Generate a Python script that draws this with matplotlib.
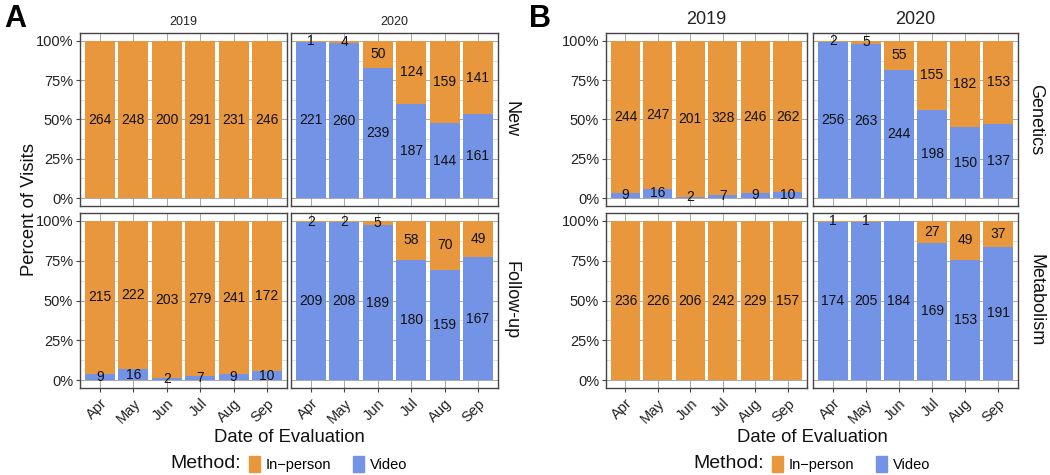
import numpy as np
import matplotlib
matplotlib.use("Agg")
import matplotlib.pyplot as plt
from matplotlib.patches import Patch

plt.rcParams['font.family'] = ['Liberation Sans', 'DejaVu Sans']

months = ['Apr', 'May', 'Jun', 'Jul', 'Aug', 'Sep']
years = ['2019', '2020']

# Panel A: New / Follow-up
a_new_inperson_2019 = [264, 248, 200, 291, 231, 246]
a_new_video_2019 = [0, 0, 0, 0, 0, 0]
a_new_inperson_2020 = [1, 4, 50, 124, 159, 141]
a_new_video_2020 = [221, 260, 239, 187, 144, 161]
a_fu_inperson_2019 = [215, 222, 203, 279, 241, 172]
a_fu_video_2019 = [9, 16, 2, 7, 9, 10]
a_fu_inperson_2020 = [2, 2, 5, 58, 70, 49]
a_fu_video_2020 = [209, 208, 189, 180, 159, 167]

# Panel B: Genetics / Metabolism
b_gen_inperson_2019 = [244, 247, 201, 328, 246, 262]
b_gen_video_2019 = [9, 16, 2, 7, 9, 10]
b_gen_inperson_2020 = [2, 5, 55, 155, 182, 153]
b_gen_video_2020 = [256, 263, 244, 198, 150, 137]
b_met_inperson_2019 = [236, 226, 206, 242, 229, 157]
b_met_video_2019 = [0, 0, 0, 0, 0, 0]
b_met_inperson_2020 = [1, 1, 0, 27, 49, 37]
b_met_video_2020 = [174, 205, 184, 169, 153, 191]

ORANGE = '#E8973D'
BLUE = '#7393E6'
W, H = 1050, 475

fig = plt.figure(figsize=(W / 100, H / 100), dpi=100)


def px_axes(x0, y0, x1, y1):
    return fig.add_axes([x0 / W, 1 - y1 / H, (x1 - x0) / W, (y1 - y0) / H])


def facet(ax, inperson, video, show_x, show_y):
    inperson = np.array(inperson, float)
    video = np.array(video, float)
    tot = inperson + video
    pv = video / tot * 100
    pi = inperson / tot * 100
    x = np.arange(len(months))
    ax.set_axisbelow(True)
    ax.bar(x, pv, width=0.9, color=BLUE, zorder=2)
    ax.bar(x, pi, bottom=pv, width=0.9, color=ORANGE, zorder=2)
    for i in range(len(x)):
        if video[i] > 0:
            ax.text(x[i], pv[i] / 2, f'{int(video[i])}', ha='center', va='center',
                    fontsize=10, color='#111', zorder=3)
        if inperson[i] > 0:
            ax.text(x[i], pv[i] + pi[i] / 2, f'{int(inperson[i])}', ha='center',
                    va='center', fontsize=10, color='#111', zorder=3)
    ax.set_xlim(-0.6, 5.6)
    ax.set_ylim(-5, 105)
    ax.set_yticks([0, 25, 50, 75, 100])
    ax.set_yticks([12.5, 37.5, 62.5, 87.5], minor=True)
    ax.set_xticks(x)
    ax.grid(True, which='major', color='#9a9a9a', lw=0.6)
    ax.grid(True, which='minor', axis='y', color='#c4c4c4', lw=0.4)
    ax.tick_params(which='minor', length=0)
    for s in ax.spines.values():
        s.set_color('#444')
        s.set_linewidth(1.0)
    if show_y:
        ax.set_yticklabels(['0%', '25%', '50%', '75%', '100%'], fontsize=10.5, color='#222')
        ax.tick_params(axis='y', length=3, color='#444', pad=2)
    else:
        ax.tick_params(axis='y', length=0, labelleft=False)
    if show_x:
        ax.set_xticklabels(months, rotation=45, ha='right', rotation_mode='anchor',
                           fontsize=10.5, color='#222')
        ax.tick_params(axis='x', length=3, color='#444', pad=3)
    else:
        ax.tick_params(axis='x', length=0, labelbottom=False)


def group(xcols, rows, data, strip_size, row_names, row_x, letter, letter_x, show_ylabel):
    (l0, l1), (r0, r1) = xcols
    for ri, (y0, y1) in enumerate(rows):
        for ci, (x0, x1) in enumerate([(l0, l1), (r0, r1)]):
            ax = px_axes(x0, y0, x1, y1)
            ip, vd = data[ri][ci]
            facet(ax, ip, vd, show_x=(ri == 1), show_y=(ci == 0))
            if ri == 0:
                fig.text((x0 + x1) / 2 / W, 1 - (y0 - 5) / H, years[ci],
                         ha='center', va='bottom', fontsize=strip_size, color='#222')
        fig.text(row_x / W, 1 - (y0 + y1) / 2 / H, row_names[ri], rotation=-90,
                 ha='center', va='center', fontsize=13, color='#111')
    fig.text(letter_x / W, 1 - 4 / H, letter, ha='left', va='top', fontsize=22,
             fontweight='bold')
    cx = (l0 + r1) / 2
    fig.text(cx / W, 1 - 438 / H, 'Date of Evaluation', ha='center', va='center',
             fontsize=13.3, color='#111')
    if show_ylabel:
        fig.text(30 / W, 1 - 210 / H, 'Percent of Visits', rotation=90, ha='center',
                 va='center', fontsize=13.3, color='#111')
    # legend
    fig.text((cx - 48) / W, 1 - 463 / H, 'Method:', ha='right', va='center',
             fontsize=14, color='#111')
    handles = [Patch(color=ORANGE), Patch(color=BLUE)]
    fig.legend(handles, ['In\u2212person', 'Video'], ncol=2, loc='center left',
               bbox_to_anchor=((cx - 40) / W, 1 - 464 / H), frameon=False,
               handlelength=0.75, handleheight=1.3, handletextpad=0.4,
               columnspacing=1.5, borderpad=0, borderaxespad=0, fontsize=10.5)


rows = [(33, 206), (213, 388)]
group(((80, 287), (291, 498)), rows,
      [[(a_new_inperson_2019, a_new_video_2019), (a_new_inperson_2020, a_new_video_2020)],
       [(a_fu_inperson_2019, a_fu_video_2019), (a_fu_inperson_2020, a_fu_video_2020)]],
      9, ['New', 'Follow-up'], 511, 'A', 4, True)
group(((606, 807), (813, 1018)), rows,
      [[(b_gen_inperson_2019, b_gen_video_2019), (b_gen_inperson_2020, b_gen_video_2020)],
       [(b_met_inperson_2019, b_met_video_2019), (b_met_inperson_2020, b_met_video_2020)]],
      13, ['Genetics', 'Metabolism'], 1036, 'B', 529, False)

fig.savefig('out.png', dpi=100)
